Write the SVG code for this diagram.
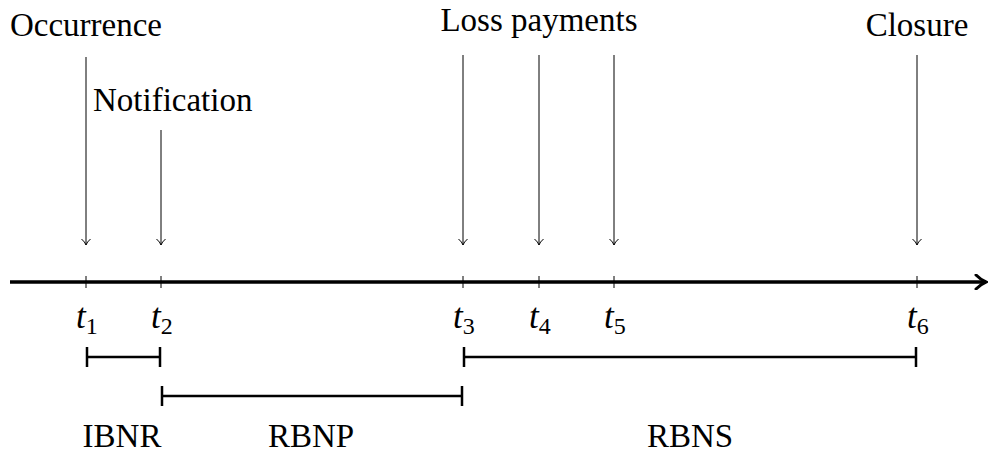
<svg xmlns="http://www.w3.org/2000/svg" width="989" height="455" viewBox="0 0 989 455">
  <style>
    text { font-family: "Liberation Serif", "Times New Roman", serif; fill: #000; }
    .lbl { font-size: 33px; }
    .t { font-size: 35px; font-style: italic; }
    .sub { font-size: 24px; font-style: normal; }
    .pin { stroke: #000; stroke-width: 1; fill: none; marker-end: url(#tip); }
    .tick { stroke: #000; stroke-width: 1; }
    .span { stroke: #000; stroke-width: 2.5; fill: none; }
  </style>
  <defs>
    <marker id="tip" viewBox="0 0 10 12" refX="9" refY="6" markerWidth="10" markerHeight="12" markerUnits="userSpaceOnUse" orient="auto">
      <path d="M3,1.5 Q6,5 9,6 Q6,7 3,10.5" fill="none" stroke="#000" stroke-width="1"/>
    </marker>
    <marker id="axisTip" viewBox="0 0 14 16" refX="12" refY="8" markerWidth="14" markerHeight="16" markerUnits="userSpaceOnUse" orient="auto">
      <path d="M2,1 Q7,6 12,8 Q7,10 2,15" fill="none" stroke="#000" stroke-width="3" stroke-linecap="round"/>
    </marker>
  </defs>

  <!-- time axis -->
  <g id="axis">
    <line x1="10" y1="282" x2="986" y2="282" stroke="#000" stroke-width="3.5" marker-end="url(#axisTip)"/>
    <line class="tick" x1="86" y1="276" x2="86" y2="288"/>
    <line class="tick" x1="161" y1="276" x2="161" y2="288"/>
    <line class="tick" x1="463" y1="276" x2="463" y2="288"/>
    <line class="tick" x1="539" y1="276" x2="539" y2="288"/>
    <line class="tick" x1="614" y1="276" x2="614" y2="288"/>
    <line class="tick" x1="917" y1="276" x2="917" y2="288"/>
  </g>

  <!-- time point labels -->
  <g id="times">
    <text class="t" x="76" y="328">t<tspan class="sub" dy="6">1</tspan></text>
    <text class="t" x="151" y="328">t<tspan class="sub" dy="6">2</tspan></text>
    <text class="t" x="453" y="328">t<tspan class="sub" dy="6">3</tspan></text>
    <text class="t" x="529" y="328">t<tspan class="sub" dy="6">4</tspan></text>
    <text class="t" x="604" y="328">t<tspan class="sub" dy="6">5</tspan></text>
    <text class="t" x="907" y="328">t<tspan class="sub" dy="6">6</tspan></text>
  </g>

  <!-- event pointers -->
  <g id="connectors">
    <line class="pin" x1="86" y1="57" x2="86" y2="245"/>
    <line class="pin" x1="161" y1="130" x2="161" y2="245"/>
    <line class="pin" x1="463" y1="55" x2="463" y2="245"/>
    <line class="pin" x1="539" y1="55" x2="539" y2="245"/>
    <line class="pin" x1="614" y1="55" x2="614" y2="245"/>
    <line class="pin" x1="917" y1="55" x2="917" y2="245"/>
  </g>

  <!-- event labels -->
  <g id="occurrence"><text class="lbl" x="86" y="36" text-anchor="middle">Occurrence</text></g>
  <g id="notification"><text class="lbl" x="93" y="111">Notification</text></g>
  <g id="loss-payments"><text class="lbl" x="539" y="31" text-anchor="middle">Loss payments</text></g>
  <g id="closure"><text class="lbl" x="917" y="36" text-anchor="middle">Closure</text></g>

  <!-- reserve periods -->
  <g id="ibnr">
    <path class="span" d="M87,347 V367 M87,357 H160 M160,347 V367"/>
    <text class="lbl" x="122" y="447" text-anchor="middle">IBNR</text>
  </g>
  <g id="rbnp">
    <path class="span" d="M162,386 V406 M162,396 H462 M462,386 V406"/>
    <text class="lbl" x="311" y="447" text-anchor="middle">RBNP</text>
  </g>
  <g id="rbns">
    <path class="span" d="M464,347 V367 M464,357 H916 M916,347 V367"/>
    <text class="lbl" x="690" y="447" text-anchor="middle">RBNS</text>
  </g>
</svg>
